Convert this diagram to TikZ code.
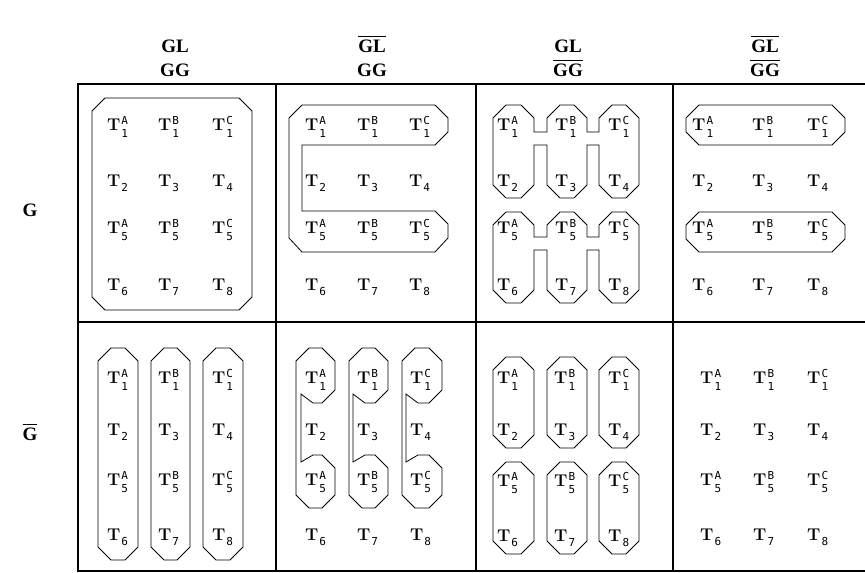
\documentclass[tikz,border=0pt]{standalone}
\usepackage{fontspec}
\newfontfamily\monof{DejaVu Sans Mono}
\newfontfamily\hdrf{Liberation Serif}
\tikzset{
  gridline/.style={line width=2.6pt, line cap=rect},
  grp/.style={draw, line width=0.8pt, line join=miter},
  tn/.style={anchor=base west, inner sep=0pt, font=\fontsize{17}{20}\selectfont},
  hd/.style={anchor=base, inner sep=0pt, font=\hdrf\bfseries\fontsize{19}{22}\selectfont},
}
\newcommand{\smf}{\monof\fontsize{11}{11}\selectfont}
\newcommand{\Tx}[2]{{\bfseries T}\kern1pt\rlap{\raisebox{6pt}{\smf #1}}\raisebox{-7.5pt}{\smf #2}}
\newcommand{\Ty}[1]{{\bfseries T}\kern1pt\raisebox{-5pt}{\smf #1}}
\newcommand{\ovl}[1]{\vbox{\hrule height 1.3pt \kern2pt \hbox{#1}}}
% chamfered rectangle x1 y1 x2 y2
\newcommand{\octo}[4]{\draw[grp] ({#1+13},#2) -- ({#3-13},#2) -- (#3,{#2+13}) -- (#3,{#4-13}) -- ({#3-13},#4) -- ({#1+13},#4) -- (#1,{#4-13}) -- (#1,{#2+13}) -- cycle;}
% H-shape for cell 3: top, notch, bridge, bottom
\newcommand{\hshape}[4]{\draw[grp] (506,#1) -- (521,#1) -- (534,{#1+13}) -- (534,#2) -- (547,#2) -- (547,{#1+13}) -- (560,#1) -- (574,#1) -- (587,{#1+13}) -- (587,#2) -- (599,#2) -- (599,{#1+13}) -- (612,#1) -- (626,#1) -- (639,{#1+13}) -- (639,{#4-13}) -- (626,#4) -- (612,#4) -- (599,{#4-13}) -- (599,#3) -- (587,#3) -- (587,{#4-13}) -- (574,#4) -- (560,#4) -- (547,{#4-13}) -- (547,#3) -- (534,#3) -- (534,{#4-13}) -- (521,#4) -- (506,#4) -- (493,{#4-13}) -- (493,{#1+13}) -- cycle;}
% cell 6 shape: left, right, inner
\newcommand{\cshape}[3]{\draw[grp] ({#1+13},348) -- ({#2-13},348) -- (#2,361) -- (#2,390) -- ({#2-13},403) -- ({#3+12},403) -- (#3,394) -- (#3,462) -- ({#3+12},455) -- ({#2-13},455) -- (#2,468) -- (#2,495) -- ({#2-13},508) -- ({#1+13},508) -- (#1,495) -- (#1,361) -- cycle;}
% grid of T labels: cell name, x1 x2 x3, baselines b1 b2 b3 b4
\newcommand{\tgrid}[8]{%
  \node[tn] (#1a1) at (#2,#5) {\Tx{A}{1}};
  \node[tn] (#1b1) at (#3,#5) {\Tx{B}{1}};
  \node[tn] (#1c1) at (#4,#5) {\Tx{C}{1}};
  \node[tn] (#1t2) at (#2,#6) {\Ty{2}};
  \node[tn] (#1t3) at (#3,#6) {\Ty{3}};
  \node[tn] (#1t4) at (#4,#6) {\Ty{4}};
  \node[tn] (#1a5) at (#2,#7) {\Tx{A}{5}};
  \node[tn] (#1b5) at (#3,#7) {\Tx{B}{5}};
  \node[tn] (#1c5) at (#4,#7) {\Tx{C}{5}};
  \node[tn] (#1t6) at (#2,#8) {\Ty{6}};
  \node[tn] (#1t7) at (#3,#8) {\Ty{7}};
  \node[tn] (#1t8) at (#4,#8) {\Ty{8}};}
\begin{document}
\begin{tikzpicture}[x=1pt,y=-1pt]
\useasboundingbox (0,0) rectangle (865,573);
% headers
\node[hd] (h1a) at (175,52) {GL};
\node[hd] (h1b) at (175,76) {GG};
\node[hd] (h2a) at (372,52) {\ovl{GL}};
\node[hd] (h2b) at (372,76) {GG};
\node[hd] (h3a) at (568,52) {GL};
\node[hd] (h3b) at (568,76) {\ovl{GG}};
\node[hd] (h4a) at (765,52) {\ovl{GL}};
\node[hd] (h4b) at (765,76) {\ovl{GG}};
\node[hd] (r1) at (30,216) {G};
\node[hd] (r2) at (30,440) {\ovl{G}};
% grid
\draw[gridline] (78,84) -- (865,84);
\draw[gridline] (78,322) -- (865,322);
\draw[gridline] (78,571) -- (865,571);
\foreach \x in {78,276,476,673} \draw[gridline] (\x,84) -- (\x,571);
% T labels
\tgrid{p}{107}{158}{212}{130}{186}{233}{290}
\tgrid{q}{305}{357}{409}{130}{186}{233}{290}
\tgrid{r}{497}{555}{608}{130}{186}{233}{290}
\tgrid{s}{692}{752}{807}{130}{186}{233}{290}
\tgrid{u}{107}{158}{212}{383}{435}{485}{540}
\tgrid{v}{305}{357}{410}{383}{435}{485}{540}
\tgrid{w}{497}{554}{608}{383}{435}{486}{541}
\tgrid{z}{700}{753}{807}{383}{435}{485}{540}
% cell 1
\octo{92}{98}{252}{310}
% cell 2
\draw[grp] (302,105) -- (435,105) -- (448,118) -- (448,132) -- (435,145) -- (302,145) -- (302,211) -- (435,211) -- (448,224) -- (448,238) -- (435,252) -- (302,252) -- (289,238) -- (289,118) -- cycle;
% cell 3
\hshape{105}{132}{145}{198}
\hshape{212}{237}{250}{303}
% cell 4
\octo{686}{105}{845}{145}
\octo{686}{212}{845}{252}
% cell 5
\octo{98}{348}{138}{560}
\octo{151}{348}{190}{560}
\octo{203}{348}{243}{560}
% cell 6
\cshape{296}{335}{301}
\cshape{349}{388}{353}
\cshape{402}{442}{406}
% cell 7
\octo{493}{357}{534}{448}
\octo{547}{357}{587}{448}
\octo{599}{357}{639}{448}
\octo{493}{462}{534}{554}
\octo{547}{462}{587}{554}
\octo{599}{462}{639}{554}
\end{tikzpicture}
\end{document}
